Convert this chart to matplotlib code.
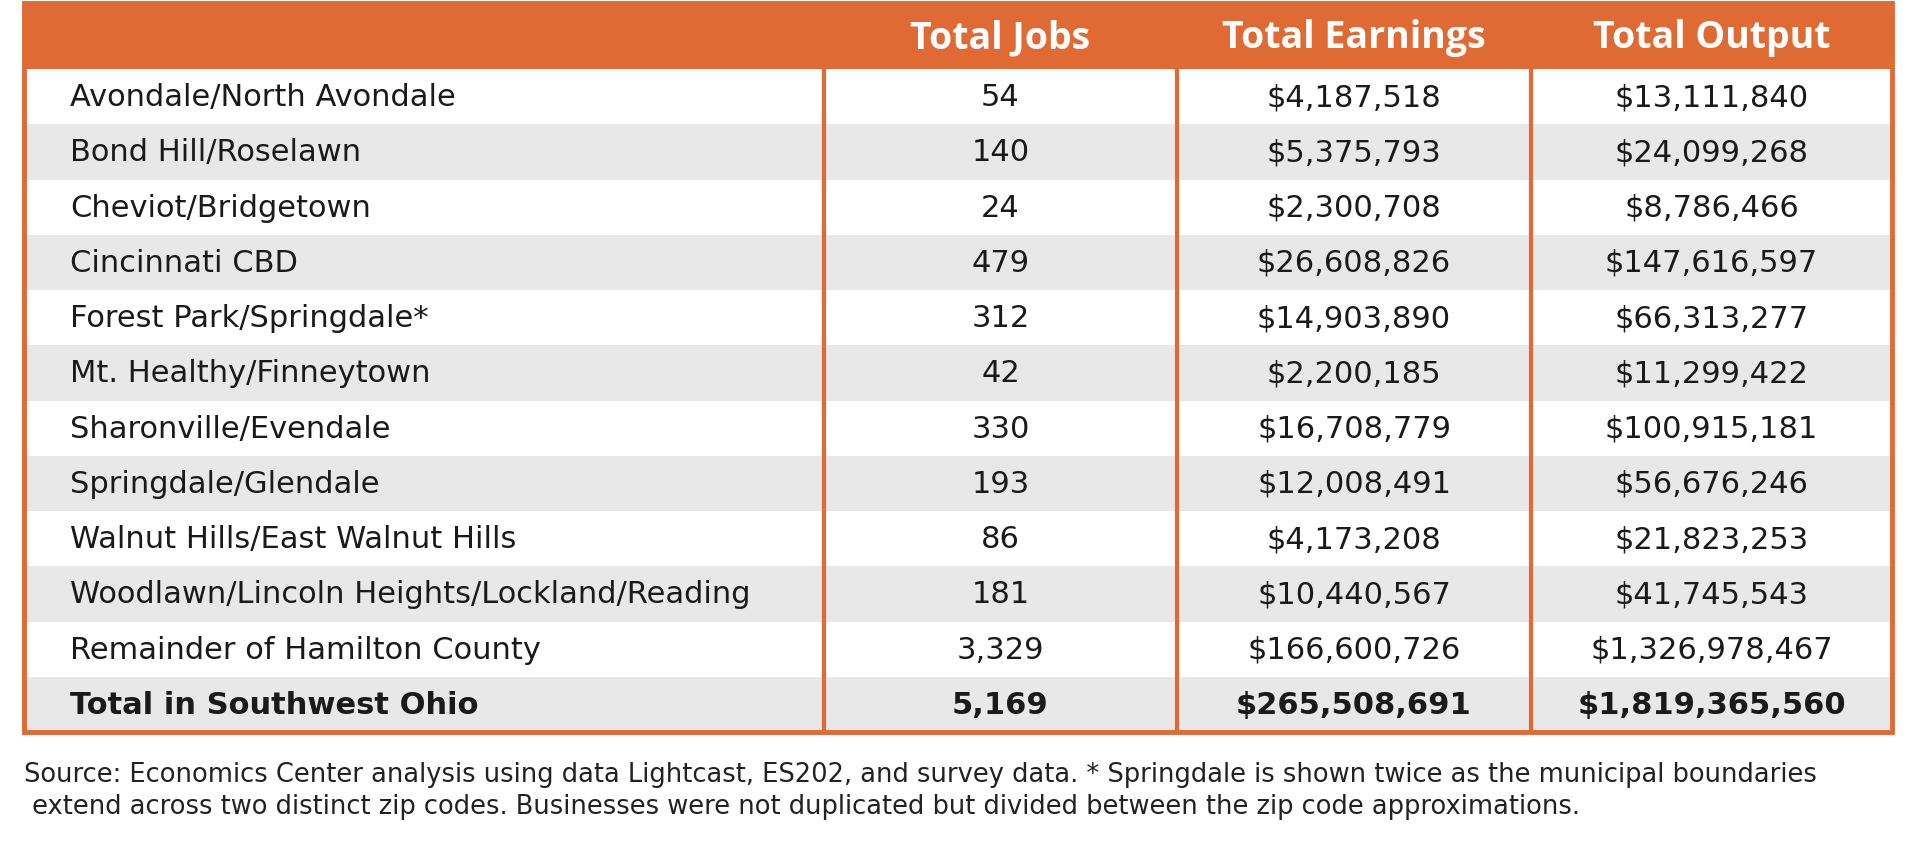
import matplotlib
matplotlib.use("Agg")
import matplotlib.pyplot as plt
from matplotlib.patches import Rectangle

headers = ["Total Jobs", "Total Earnings", "Total Output"]
areas = ["Avondale/North Avondale", "Bond Hill/Roselawn", "Cheviot/Bridgetown", "Cincinnati CBD",
         "Forest Park/Springdale*", "Mt. Healthy/Finneytown", "Sharonville/Evendale",
         "Springdale/Glendale", "Walnut Hills/East Walnut Hills",
         "Woodlawn/Lincoln Heights/Lockland/Reading", "Remainder of Hamilton County",
         "Total in Southwest Ohio"]
jobs = ["54", "140", "24", "479", "312", "42", "330", "193", "86", "181", "3,329", "5,169"]
earnings = ["$4,187,518", "$5,375,793", "$2,300,708", "$26,608,826", "$14,903,890", "$2,200,185",
            "$16,708,779", "$12,008,491", "$4,173,208", "$10,440,567", "$166,600,726", "$265,508,691"]
output = ["$13,111,840", "$24,099,268", "$8,786,466", "$147,616,597", "$66,313,277", "$11,299,422",
          "$100,915,181", "$56,676,246", "$21,823,253", "$41,745,543", "$1,326,978,467", "$1,819,365,560"]
note = ("Source: Economics Center analysis using data Lightcast, ES202, and survey data. * Springdale is shown twice as the municipal boundaries\n"
        " extend across two distinct zip codes. Businesses were not duplicated but divided between the zip code approximations.")

ORANGE = "#E06A33"
GREY = "#E8E8E8"
W, H = 1920, 852
fig = plt.figure(figsize=(W/100, H/100), dpi=100)
ax = fig.add_axes([0, 0, 1, 1])
ax.set_xlim(0, W); ax.set_ylim(H, 0); ax.axis("off")
BODY = ['DejaVu Sans']

L, R = 24, 1892
top, hb = 3, 69
rh = (732 - hb) / len(areas)
cols = [L, 824, 1177, 1531, R]
ax.add_patch(Rectangle((L, top), R-L, hb-top, color=ORANGE, lw=0))
for i, h in enumerate(headers):
    ax.text((cols[i+1]+cols[i+2])/2, (top+hb)/2+2, h, color="white", fontsize=27, fontweight="bold",
            ha="center", va="center", family=['Open Sans', 'DejaVu Sans'])
for r in range(len(areas)):
    y0 = hb + r*rh
    if r % 2 == 1:
        ax.add_patch(Rectangle((L, y0), R-L, rh, color=GREY, lw=0))
    bold = "bold" if r == len(areas)-1 else "normal"
    yc = y0 + rh/2 + 1
    ax.text(70, yc, areas[r], fontsize=22, fontweight=bold, ha="left", va="center", color="#1a1a1a",
            family=BODY)
    for i, vals in enumerate([jobs, earnings, output]):
        ax.text((cols[i+1]+cols[i+2])/2, yc, vals[r], fontsize=22, fontweight=bold,
                ha="center", va="center", color="#1a1a1a", family=BODY)
bottom = hb + rh*len(areas)
for x in cols[1:4]:
    ax.plot([x, x], [hb, bottom], color=ORANGE, lw=3)
ax.add_patch(Rectangle((L, top), R-L, bottom-top, fill=False, ec=ORANGE, lw=3.5))
ax.text(L, 762, note, fontsize=18.5, ha="left", va="top", color="#222222", linespacing=1.3,
        family=BODY)
fig.savefig("out.png", dpi=100)
